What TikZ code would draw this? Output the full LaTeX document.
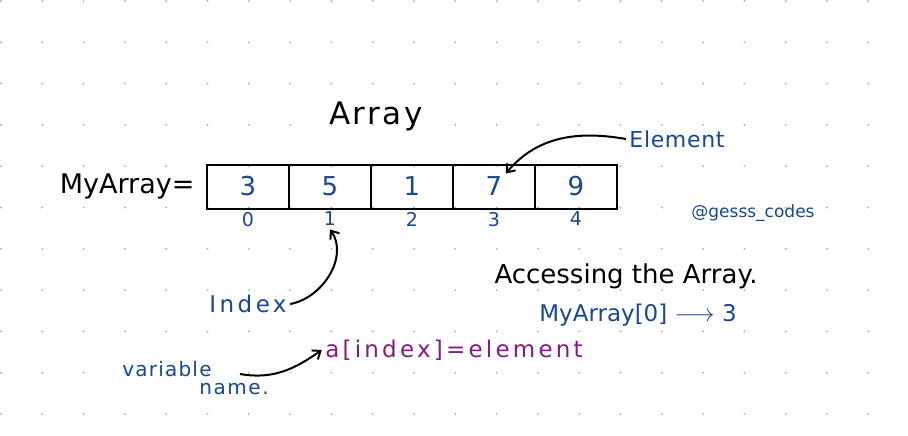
\documentclass[tikz,border=0pt]{standalone}
\usepackage{fontspec}
\setmainfont{DejaVu Sans}
\usetikzlibrary{positioning,arrows.meta}
\definecolor{inkblue}{RGB}{22,72,150}
\definecolor{inkpurple}{RGB}{135,25,135}
\definecolor{dotgray}{RGB}{185,185,185}
\newcommand{\spaced}[1]{\addfontfeatures{LetterSpace=#1}}

\begin{document}
\begin{tikzpicture}[
    x=1pt, y=-1pt,
    cell/.style={%
      draw,
      rectangle,
      line width=2pt,
      minimum width=82pt,
      minimum height=44pt,
      inner sep=0pt,
      outer sep=0pt,
    },
    val/.style={text=inkblue, font=\fontsize{26}{28}\selectfont},
    idx/.style={text=inkblue, font=\fontsize{19}{21}\selectfont},
    note/.style={text=inkblue, font=\fontsize{23}{25}\selectfont},
    heading/.style={font=\fontsize{27}{29}\selectfont},
    curvy/.style={-{Straight Barb[length=7pt,width=11pt]}, line width=2pt},
  ]

    \useasboundingbox (0,0) rectangle (908,436);
    \fill[white] (0,0) rectangle (908,436);

    % dotted paper
    \foreach \i in {0,...,22}
      \foreach \j in {0,...,10}
        \fill[dotgray] (1+41.3*\i, 1+41.3*\j) circle (1.1pt);

    \node [heading, font=\fontsize{31}{33}\selectfont\spaced{8}] (title) at (376,116) {Array};

    \node [cell] (c0) at (248,186.5) {};
    \node [cell, right=0pt of c0] (c1) {};
    \node [cell, right=0pt of c1] (c2) {};
    \node [cell, right=0pt of c2] (c3) {};
    \node [cell, right=0pt of c3] (c4) {};

    \node [heading, left=9pt of c0] (arrname) {MyArray=};

    \node [val] (v0) at (c0) {3};
    \node [val] (v1) at (c1) {5};
    \node [val] (v2) at (c2) {1};
    \node [val] (v3) at (c3) {7};
    \node [val] (v4) at (c4) {9};

    \node [idx, below=0pt of c0] (i0) {0};
    \node [idx, below=0pt of c1] (i1) {1};
    \node [idx, below=0pt of c2] (i2) {2};
    \node [idx, below=0pt of c3] (i3) {3};
    \node [idx, below=0pt of c4] (i4) {4};

    \node [note, font=\fontsize{22}{24}\selectfont\spaced{3}] (elem) at (677,139) {Element};
    \node [idx, font=\fontsize{17}{19}\selectfont] (handle) at (753,213) {@gesss\_codes};

    \node [heading, font=\fontsize{26}{28}\selectfont] (access) at (626,276) {Accessing the Array.};
    \node [note] (access0) at (638,315) {MyArray[0] \ensuremath{\longrightarrow} 3};

    \node [note, font=\fontsize{23}{25}\selectfont\spaced{15}] (ixlabel) at (248,304) {Index};
    \node [note, text=inkpurple, font=\fontsize{23}{25}\selectfont\spaced{14}] (formula) at (454,350) {a[index]=element};
    \node [idx, font=\fontsize{20}{22}\selectfont\spaced{6}] (var1) at (167,369) {variable};
    \node [idx, font=\fontsize{20}{22}\selectfont\spaced{8}] (var2) at (234,389) {name.};
    \coordinate (varend) at (240,374);

    \draw [curvy] (elem.west) to[out=170,in=50] (v3.north east);
    \draw [curvy] (ixlabel.east) to[out=10,in=-55] (i1.south);
    \draw [curvy] (varend) to[out=-10,in=215] (formula.west);

\end{tikzpicture}
\end{document}
